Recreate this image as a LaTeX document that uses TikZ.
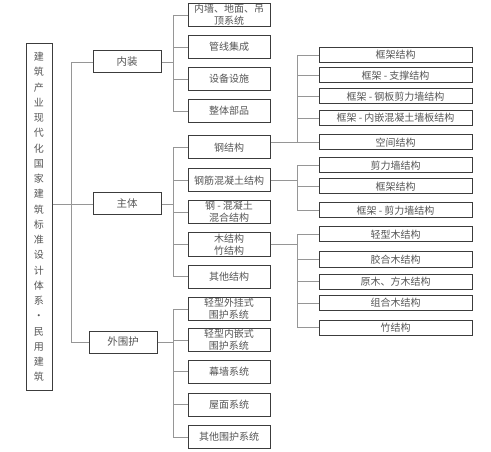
\documentclass[tikz,border=0pt]{standalone}
\usepackage{fontspec}
\newfontfamily\cjk{Noto Sans CJK SC}
\usepackage{xcolor}
\usetikzlibrary{positioning}
\definecolor{boxline}{RGB}{60, 60, 60}
\definecolor{linkgray}{RGB}{150, 150, 150}
\definecolor{textgray}{RGB}{85, 85, 85}

\begin{document}
\begin{tikzpicture}[x=1pt, y=-1pt,
  rootbox/.style={rectangle, draw=boxline, line width=1pt, minimum width=26pt, minimum height=346pt, inner sep=0pt, align=center, text=textgray, font=\cjk\fontsize{10}{15.25}\selectfont},
  topbox/.style={rectangle, draw=boxline, line width=1pt, minimum width=68pt, minimum height=22pt, inner sep=1pt, align=center, text=textgray, font=\cjk\fontsize{10.5}{12}\selectfont},
  midbox/.style={rectangle, draw=boxline, line width=1pt, minimum width=82pt, minimum height=23pt, inner sep=1pt, align=center, text=textgray, font=\cjk\fontsize{10}{12}\selectfont},
  subbox/.style={rectangle, draw=boxline, line width=1pt, minimum width=153pt, minimum height=15pt, inner sep=0.5pt, align=center, text=textgray, font=\cjk\fontsize{10}{12}\selectfont},
  link/.style={draw=linkgray, line width=0.8pt}
]
\useasboundingbox (0,0) rectangle (491,452);

% Root
\node[rootbox] (root) at (39,217) {建\\筑\\产\\业\\现\\代\\化\\国\\家\\建\\筑\\标\\准\\设\\计\\体\\系\\•\\民\\用\\建\\筑};

% Level 1
\node[topbox] (neizhuang) at (127,62) {内装};
\node[topbox] (zhuti) at (127,204) {主体};
\node[topbox] (waiweihu) at (123,342) {外围护};

\draw[link] (root.east |- zhuti.west) -- (zhuti.west);
\draw[link] (neizhuang.west) -- ++(-21,0) |- (waiweihu.west);

% Level 2: 内装
\node[midbox] (n1) at (229,15) {内墙、地面、吊\\顶系统};
\node[midbox] (n2) at (229,47) {管线集成};
\node[midbox] (n3) at (229,79) {设备设施};
\node[midbox] (n4) at (229,111) {整体部品};

% Level 2: 主体
\node[midbox] (z1) at (229,147.5) {钢结构};
\node[midbox] (z2) at (229,180.5) {钢筋混凝土结构};
\node[midbox] (z3) at (229,212) {钢 - 混凝土\\混合结构};
\node[midbox] (z4) at (229,244.5) {木结构\\竹结构};
\node[midbox] (z5) at (229,276.5) {其他结构};

% Level 2: 外围护
\node[midbox] (w1) at (229,309) {轻型外挂式\\围护系统};
\node[midbox] (w2) at (229,340) {轻型内嵌式\\围护系统};
\node[midbox] (w3) at (229,371.5) {幕墙系统};
\node[midbox] (w4) at (229,404.5) {屋面系统};
\node[midbox] (w5) at (229,437) {其他围护系统};

% Level 2 brackets
\coordinate (bx) at (173,0);
\draw[link] (neizhuang.east) -- (neizhuang.east -| bx);
\draw[link] (n1.west -| bx) -- (n4.west -| bx);
\foreach \n in {n1,n2,n3,n4} \draw[link] (\n.west -| bx) -- (\n.west);
\draw[link] (zhuti.east) -- (zhuti.east -| bx);
\draw[link] (z1.west -| bx) -- (z5.west -| bx);
\foreach \n in {z1,z2,z3,z4,z5} \draw[link] (\n.west -| bx) -- (\n.west);
\draw[link] (waiweihu.east) -- (waiweihu.east -| bx);
\draw[link] (w1.west -| bx) -- (w5.west -| bx);
\foreach \n in {w1,w2,w3,w4,w5} \draw[link] (\n.west -| bx) -- (\n.west);

% Level 3: 钢结构
\node[subbox] (s1) at (395.5,55) {框架结构};
\node[subbox] (s2) at (395.5,75.5) {框架 - 支撑结构};
\node[subbox] (s3) at (395.5,96.5) {框架 - 钢板剪力墙结构};
\node[subbox] (s4) at (395.5,118) {框架 - 内嵌混凝土墙板结构};
\node[subbox] (s5) at (395.5,142.5) {空间结构};

% Level 3: 钢筋混凝土结构
\node[subbox] (r1) at (395.5,165.5) {剪力墙结构};
\node[subbox] (r2) at (395.5,186.5) {框架结构};
\node[subbox] (r3) at (395.5,210.5) {框架 - 剪力墙结构};

% Level 3: 木结构
\node[subbox] (m1) at (395.5,234.5) {轻型木结构};
\node[subbox] (m2) at (395.5,259.5) {胶合木结构};
\node[subbox] (m3) at (395.5,281.5) {原木、方木结构};
\node[subbox] (m4) at (395.5,303) {组合木结构};
\node[subbox] (m5) at (395.5,327.5) {竹结构};

% Level 3 brackets
\coordinate (cx) at (297,0);
\draw[link] (z1.east |- s5.west) -- (s5.west);
\draw[link] (s1.west -| cx) -- (s5.west -| cx);
\foreach \n in {s1,s2,s3,s4} \draw[link] (\n.west -| cx) -- (\n.west);
\draw[link] (z2.east) -- (z2.east -| cx);
\draw[link] (r1.west -| cx) -- (r3.west -| cx);
\foreach \n in {r1,r2,r3} \draw[link] (\n.west -| cx) -- (\n.west);
\draw[link] (z4.east) -- (z4.east -| cx);
\draw[link] (m1.west -| cx) -- (m5.west -| cx);
\foreach \n in {m1,m2,m3,m4,m5} \draw[link] (\n.west -| cx) -- (\n.west);

\end{tikzpicture}
\end{document}
